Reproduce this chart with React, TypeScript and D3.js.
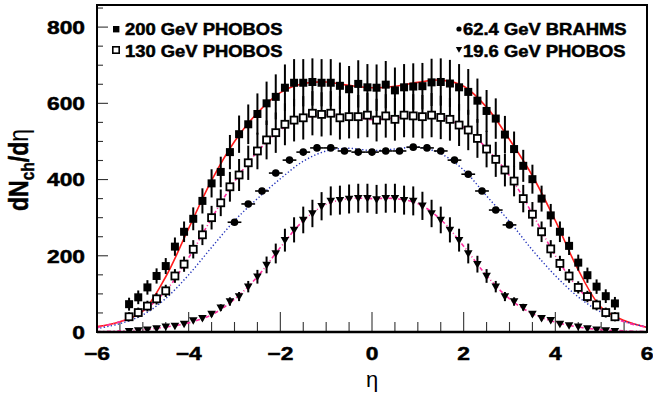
import React, { useEffect, useRef } from 'react';
import * as d3 from 'd3';

// PHOBOS bins (0.2 wide), BRAHMS points every 0.3
const etaPhobos = [-5.3, -5.1, -4.9, -4.7, -4.5, -4.3, -4.1, -3.9, -3.7, -3.5, -3.3, -3.1, -2.9, -2.7, -2.5, -2.3, -2.1, -1.9, -1.7, -1.5, -1.3, -1.1, -0.9, -0.7, -0.5, -0.3, -0.1,
  0.1, 0.3, 0.5, 0.7, 0.9, 1.1, 1.3, 1.5, 1.7, 1.9, 2.1, 2.3, 2.5, 2.7, 2.9, 3.1, 3.3, 3.5, 3.7, 3.9, 4.1, 4.3, 4.5, 4.7, 4.9, 5.1, 5.3];

const dn200 = [73, 91, 117, 147, 173, 224, 263, 297, 344, 390, 420, 472, 519, 545, 572, 600, 617, 641, 654, 654, 656, 654, 654, 646, 637, 651, 642,
  641, 649, 634, 642, 644, 645, 655, 656, 652, 642, 630, 607, 580, 560, 518, 480, 436, 401, 350, 306, 263, 226, 182, 149, 119, 94, 75];
const err200 = [17, 18, 19, 20, 21, 24, 27, 30, 33, 37, 40, 45, 49, 52, 54, 57, 59, 61, 62, 62, 62, 62, 62, 61, 61, 62, 61,
  61, 62, 60, 61, 61, 61, 62, 62, 62, 61, 60, 58, 55, 53, 49, 46, 42, 38, 34, 30, 27, 24, 21, 20, 19, 18, 17];

const dn130 = [40, 51, 68, 87, 108, 147, 178, 217, 255, 300, 339, 381, 412, 444, 475, 504, 523, 545, 556, 562, 574, 571, 574, 562, 565, 565, 569,
  556, 567, 558, 569, 567, 565, 569, 563, 558, 543, 530, 508, 480, 453, 425, 396, 350, 309, 263, 218, 180, 147, 117, 93, 71, 51, 40];
const err130 = [12, 13, 14, 15, 16, 18, 20, 24, 27, 31, 35, 39, 42, 45, 48, 51, 53, 55, 56, 57, 58, 58, 58, 57, 57, 57, 58,
  56, 57, 56, 58, 57, 57, 58, 57, 56, 55, 53, 51, 48, 46, 43, 40, 36, 32, 27, 23, 20, 18, 16, 15, 14, 13, 12];

const dn19 = [2, 4, 6, 9, 14, 16, 21, 30, 36, 47, 64, 80, 93, 119, 145, 176, 206, 241, 268, 294, 311, 330, 344, 346, 349, 351, 351,
  348, 351, 351, 346, 344, 331, 311, 294, 268, 241, 206, 178, 147, 119, 93, 80, 65, 47, 36, 31, 21, 17, 14, 9, 6, 4, 2];
const err19 = [1, 1, 2, 2, 3, 3, 4, 5, 6, 7, 9, 11, 12, 15, 18, 22, 26, 30, 33, 35, 36, 37, 38, 38, 38, 38, 38,
  38, 38, 38, 38, 38, 37, 36, 35, 33, 30, 26, 22, 18, 15, 12, 11, 9, 7, 6, 5, 4, 3, 3, 2, 2, 1, 1];

const etaBrahms = [-3.0, -2.7, -2.4, -2.1, -1.8, -1.5, -1.2, -0.9, -0.6, -0.3, 0, 0.3, 0.6, 0.9, 1.2, 1.5, 1.8, 2.1, 2.4, 2.7, 3.0];
const dn62 = [288, 336, 370, 417, 451, 472, 483, 483, 475, 472, 472, 475, 475, 485, 483, 475, 451, 414, 370, 320, 281];
const err62 = [7, 7, 7, 8, 8, 8, 8, 8, 8, 8, 8, 8, 8, 8, 8, 8, 8, 8, 7, 7, 7];
const xerr62 = 0.15;

// fitted curves
const curveEta = [-6, -5.5, -5, -4.5, -4, -3.5, -3, -2.5, -2, -1.5, -1, -0.5, 0, 0.5, 1, 1.5, 2, 2.5, 3, 3.5, 4, 4.5, 5, 5.5, 6];
const fit200 = [14, 27, 55, 145, 272, 398, 500, 575, 628, 652, 656, 647, 641, 645, 655, 661, 645, 590, 505, 410, 292, 163, 65, 30, 12];
const fit130 = [12, 27, 55, 108, 195, 298, 395, 473, 530, 560, 570, 565, 557, 562, 567, 563, 537, 482, 410, 310, 200, 115, 58, 27, 12];
const fit62 = [9, 22, 45, 88, 150, 222, 292, 350, 402, 448, 475, 482, 476, 480, 485, 468, 425, 357, 290, 215, 148, 92, 52, 28, 13];
const fit19 = [1, 3, 6, 13, 24, 45, 86, 145, 222, 292, 335, 350, 350, 350, 337, 295, 225, 148, 87, 48, 26, 13, 6, 3, 1];

const xTicks = [-6, -4, -2, 0, 2, 4, 6];
const yTicks = [0, 200, 400, 600, 800];

const W = 653;
const H = 399;
const FONT = '"Liberation Sans", Arial, Helvetica, sans-serif';

const App: React.FC = () => {
  const svgRef = useRef<SVGSVGElement>(null);

  useEffect(() => {
    if (!svgRef.current) return;
    const svg = d3.select(svgRef.current);
    svg.selectAll('*').remove();

    const left = 97, right = 647, top = 5, bottom = 332;
    const x = d3.scaleLinear().domain([-6, 6]).range([left, right]);
    const y = d3.scaleLinear().domain([0, 858]).range([bottom, top]);

    svg.append('defs').append('clipPath').attr('id', 'plotclip')
      .append('rect').attr('x', left).attr('y', top).attr('width', right - left).attr('height', bottom - top);

    // ticks
    const tk = svg.append('g').attr('stroke', '#333').attr('stroke-width', 1.1);
    d3.range(-6, 6.01, 0.5).forEach(v => {
      const major = Math.abs(v / 2 - Math.round(v / 2)) < 1e-6;
      tk.append('line').attr('x1', x(v)).attr('x2', x(v)).attr('y1', bottom).attr('y2', bottom - (major ? 20 : 10));
    });
    d3.range(0, 851, 50).forEach(v => {
      const major = v % 200 === 0;
      tk.append('line').attr('y1', y(v)).attr('y2', y(v)).attr('x1', left).attr('x2', left + (major ? 11 : 6));
    });

    const plot = svg.append('g').attr('clip-path', 'url(#plotclip)');

    // curves
    const line = d3.line<number>()
      .x((_, i) => x(curveEta[i]))
      .y(d => y(d))
      .curve(d3.curveCatmullRom.alpha(0.5));

    plot.append('path').attr('d', line(fit200)!).attr('fill', 'none').attr('stroke', '#ff1a1a').attr('stroke-width', 1.6);
    plot.append('path').attr('d', line(fit62)!).attr('fill', 'none').attr('stroke', '#2233bb').attr('stroke-width', 1.4).attr('stroke-dasharray', '1.3,2.2');
    [fit130, fit19].forEach(f => {
      plot.append('path').attr('d', line(f)!).attr('fill', 'none').attr('stroke', '#ff2fa0').attr('stroke-width', 1.6).attr('stroke-dasharray', '4,2.5,1,2.5');
    });

    // error bars
    const bars = plot.append('g').attr('stroke', '#000').attr('stroke-width', 2);
    [[dn200, err200], [dn130, err130], [dn19, err19]].forEach(([vals, errs]) => {
      bars.selectAll(null).data(vals).join('line')
        .attr('x1', (_, i) => x(etaPhobos[i])).attr('x2', (_, i) => x(etaPhobos[i]))
        .attr('y1', (d, i) => y(d - errs[i])).attr('y2', (d, i) => y(d + errs[i]));
    });
    const hb = plot.append('g').attr('stroke', '#000').attr('stroke-width', 1.6);
    etaBrahms.forEach((e, i) => {
      hb.append('line').attr('x1', x(e - xerr62)).attr('x2', x(e + xerr62)).attr('y1', y(dn62[i])).attr('y2', y(dn62[i]));
      hb.append('line').attr('x1', x(e)).attr('x2', x(e)).attr('y1', y(dn62[i] - err62[i])).attr('y2', y(dn62[i] + err62[i]));
    });

    // markers
    const tri = (cx: number, cy: number, s: number) =>
      `M${cx - s},${cy - s * 0.75}L${cx + s},${cy - s * 0.75}L${cx},${cy + s}Z`;

    plot.append('g').selectAll('rect').data(dn200).join('rect')
      .attr('x', (_, i) => x(etaPhobos[i]) - 4).attr('y', d => y(d) - 4)
      .attr('width', 8).attr('height', 8).attr('fill', '#000');
    plot.append('g').selectAll('rect').data(dn130).join('rect')
      .attr('x', (_, i) => x(etaPhobos[i]) - 3.5).attr('y', d => y(d) - 3.5)
      .attr('width', 7).attr('height', 7).attr('fill', '#fff').attr('stroke', '#000').attr('stroke-width', 1.8);
    plot.append('g').selectAll('circle').data(dn62).join('circle')
      .attr('cx', (_, i) => x(etaBrahms[i])).attr('cy', d => y(d)).attr('r', 3.8).attr('fill', '#000');
    plot.append('g').selectAll('path').data(dn19).join('path')
      .attr('d', (d, i) => tri(x(etaPhobos[i]), y(d), 4.3)).attr('fill', '#000');

    // frame
    svg.append('rect').attr('x', left).attr('y', top).attr('width', right - left).attr('height', bottom - top)
      .attr('fill', 'none').attr('stroke', '#000').attr('stroke-width', 2);
    svg.append('line').attr('x1', left).attr('x2', right).attr('y1', bottom).attr('y2', bottom)
      .attr('stroke', '#000').attr('stroke-width', 2.6);

    // tick labels
    const lab = (gx: number, gy: number, anchor: string, txt: string, size: number, sx = 1.2) =>
      svg.append('text').attr('transform', `translate(${gx},${gy}) scale(${sx},1)`)
        .attr('text-anchor', anchor).attr('font-family', FONT).attr('font-weight', 'bold')
        .attr('font-size', size).attr('fill', '#000')
        .attr('stroke', '#000').attr('stroke-width', 0.5).text(txt);

    xTicks.forEach(v => lab(x(v), 360, 'middle', v < 0 ? `\u2212${-v}` : `${v}`, 19));
    yTicks.forEach(v => lab(85, y(v) + 6.8, 'end', `${v}`, 19));

    // axis titles
    svg.append('text').attr('x', x(0)).attr('y', 387).attr('text-anchor', 'middle')
      .attr('font-family', FONT).attr('font-size', 22).attr('fill', '#000').text('\u03b7');

    const yt = svg.append('text').attr('transform', 'translate(28,170) scale(1.2,1) rotate(-90)')
      .attr('text-anchor', 'middle').attr('font-family', FONT).attr('font-weight', 'bold')
      .attr('font-size', 23).attr('fill', '#000').attr('stroke', '#000').attr('stroke-width', 0.4);
    yt.append('tspan').text('dN');
    yt.append('tspan').attr('font-size', 15.5).attr('dy', 5).text('ch');
    yt.append('tspan').attr('dy', -5).text('/d');
    yt.append('tspan').attr('font-weight', 'normal').attr('stroke-width', 0).text('\u03b7');

    // legend
    const lg = svg.append('g');
    lg.append('rect').attr('x', 113).attr('y', 26).attr('width', 6.4).attr('height', 6.4).attr('fill', '#000');
    lg.append('rect').attr('x', 112.8).attr('y', 46.8).attr('width', 6.4).attr('height', 6.4)
      .attr('fill', '#fff').attr('stroke', '#000').attr('stroke-width', 1.6);
    lg.append('circle').attr('cx', 459).attr('cy', 29).attr('r', 2.6).attr('fill', '#000');
    lg.append('path').attr('d', tri(459, 49.5, 3.2)).attr('fill', '#000');
    lab(125, 35, 'start', '200 GeV PHOBOS', 16, 1.15);
    lab(125, 56.5, 'start', '130 GeV PHOBOS', 16, 1.15);
    lab(463, 35, 'start', '62.4 GeV BRAHMS', 16, 1.15);
    lab(463, 56.5, 'start', '19.6 GeV PHOBOS', 16, 1.15);
  }, []);

  return (
    <svg ref={svgRef} width={W} height={H}
      style={{ position: 'absolute', left: 0, top: 0, background: '#fff' }} />
  );
};

export default App;
